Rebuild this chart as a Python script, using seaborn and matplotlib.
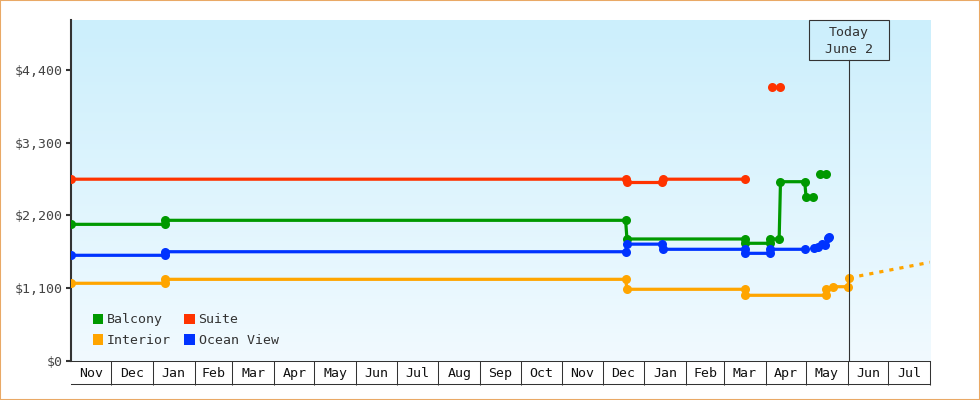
import pandas as pd
import numpy as np
import matplotlib
matplotlib.use('Agg')
import matplotlib.pyplot as plt
import matplotlib.dates as mdates
from matplotlib.patches import Patch, Rectangle
from matplotlib.colors import LinearSegmentedColormap
import seaborn as sns

# price history per cabin type (seg = separate line pieces)
balcony_dates = ['2013-11-01', '2014-01-10', '2014-01-10', '2014-12-18', '2014-12-19',
                 '2015-03-17', '2015-03-17', '2015-04-04', '2015-04-04', '2015-04-11',
                 '2015-04-12', '2015-04-30', '2015-05-01', '2015-05-06',
                 '2015-05-11', '2015-05-16']
balcony_prices = [2066, 2066, 2127, 2127, 1844,
                  1844, 1779, 1779, 1844, 1844,
                  2712, 2712, 2475, 2475,
                  2824, 2824]
balcony_segs = [0] * 14 + [1] * 2

interior_dates = ['2013-11-01', '2014-01-10', '2014-01-10', '2014-12-18', '2014-12-19',
                  '2015-03-17', '2015-03-17', '2015-05-16', '2015-05-16', '2015-05-21',
                  '2015-06-01', '2015-06-02']
interior_prices = [1173, 1173, 1233, 1233, 1082,
                   1082, 991, 991, 1086, 1121,
                   1121, 1255]
interior_segs = [0] * 12

suite_dates = ['2013-11-01', '2014-12-18', '2014-12-19', '2015-01-14', '2015-01-15',
               '2015-03-17', '2015-04-06', '2015-04-12']
suite_prices = [2750, 2750, 2700, 2700, 2750,
                2750, 4140, 4140]
suite_segs = [0] * 6 + [1] * 2

ocean_dates = ['2013-11-01', '2014-01-10', '2014-01-10', '2014-12-18', '2014-12-19',
               '2015-01-14', '2015-01-15', '2015-03-17', '2015-03-17', '2015-04-04',
               '2015-04-04', '2015-04-30',
               '2015-05-07', '2015-05-10', '2015-05-13', '2015-05-15', '2015-05-17',
               '2015-05-18']
ocean_prices = [1597, 1597, 1651, 1651, 1766,
                1766, 1688, 1688, 1627, 1627,
                1688, 1688,
                1712, 1723, 1763, 1753, 1863,
                1879]
ocean_segs = [0] * 12 + [1] * 6

# dotted projection for interior after today
proj_dates = ['2015-06-02', '2015-08-01']
proj_prices = [1255, 1491]

rooms = ['Balcony', 'Interior', 'Suite', 'Ocean View']
colors = ['#009900', '#ffa500', '#ff3300', '#0033ff']
yticks = [0, 1100, 2200, 3300, 4400]
ytick_labels = ['$0', '$1,100', '$2,200', '$3,300', '$4,400']
month_labels = ['Nov', 'Dec', 'Jan', 'Feb', 'Mar', 'Apr', 'May', 'Jun', 'Jul', 'Aug', 'Sep',
                'Oct', 'Nov', 'Dec', 'Jan', 'Feb', 'Mar', 'Apr', 'May', 'Jun', 'Jul']
today = pd.Timestamp('2015-06-02')
start = pd.Timestamp('2013-11-01')
end = pd.Timestamp('2015-08-01')

frames = []
for name, d, p, s in [('Balcony', balcony_dates, balcony_prices, balcony_segs),
                      ('Interior', interior_dates, interior_prices, interior_segs),
                      ('Suite', suite_dates, suite_prices, suite_segs),
                      ('Ocean View', ocean_dates, ocean_prices, ocean_segs)]:
    frames.append(pd.DataFrame({'date': pd.to_datetime(d), 'price': p, 'seg': s, 'room': name}))
df = pd.concat(frames, ignore_index=True)

plt.rcParams['font.family'] = ['DejaVu Sans Mono', 'DejaVu Sans']
plt.rcParams['font.size'] = 9.5

fig = plt.figure(figsize=(9.8, 4), dpi=100)
ax = fig.add_axes([70.7 / 980, 1 - 360.7 / 400, (930 - 70.7) / 980, (360.7 - 20) / 400])

# background gradient
grad = LinearSegmentedColormap.from_list('bg', ['#cceffc', '#f1faff'])
ax.imshow(np.linspace(0, 1, 256).reshape(-1, 1), cmap=grad, extent=[0, 1, 0, 1],
          transform=ax.transAxes, aspect='auto', zorder=0)

sns.lineplot(data=df, x='date', y='price', hue='room', units='seg', estimator=None,
             sort=False, hue_order=rooms, palette=colors, marker='o', markersize=6.5,
             markeredgewidth=0, linewidth=2.3, legend=False, ax=ax, zorder=3)
sns.lineplot(x=pd.to_datetime(proj_dates), y=proj_prices, color='#ffa500', linewidth=2.3,
             linestyle=(0, (1.3, 1.9)), ax=ax, zorder=3)

ax.set_xlim(start, end)
ax.set_ylim(0, 5162)
ax.set_xlabel('')
ax.set_ylabel('')

# y axis
ax.set_yticks(yticks, ytick_labels)
ax.tick_params(axis='y', length=3.6, width=1.5, color='#333333', labelcolor='#444444', pad=2)

# month cells under the plot
bounds = pd.date_range('2013-12-01', '2015-08-01', freq='MS')
edges = pd.date_range('2013-11-01', '2015-08-01', freq='MS')
mids = edges[:-1] + (edges[1:] - edges[:-1]) / 2
ax.set_xticks(bounds)
ax.set_xticklabels([])
ax.set_xticks(mids, month_labels, minor=True)
ax.tick_params(axis='x', which='major', length=17, width=0.75, color='#333333')
ax.tick_params(axis='x', which='minor', length=0, pad=4.5, labelcolor='#111111')
ax.plot([0, 1], [-0.0693, -0.0693], transform=ax.transAxes, clip_on=False,
        color='#333333', lw=0.75)

for side in ['top', 'right']:
    ax.spines[side].set_visible(False)
ax.spines['left'].set_linewidth(1.5)
ax.spines['left'].set_color('#333333')
ax.spines['bottom'].set_linewidth(0.75)
ax.spines['bottom'].set_color('#333333')

# today marker
xt = ax.get_xaxis_transform()
ax.axvline(today, ymax=0.8826, color='#333333', lw=0.8, zorder=4)
tnum = mdates.date2num(today)
ax.add_patch(Rectangle((tnum - 29.7, 0.8826), 59.4, 0.1174, transform=xt, fill=False,
                       edgecolor='#333333', lw=0.8, clip_on=False, zorder=4))
ax.text(today, 0.939, 'Today\nJune 2', transform=xt, ha='center', va='center',
        linespacing=1.35, color='#333333', zorder=4)

# legend with square swatches
handles = [Patch(facecolor=c, edgecolor='none') for c in colors]
ax.legend(handles, rooms, ncol=2, loc='lower left', bbox_to_anchor=(0.012, 0.005),
          frameon=False, handlelength=0.8, handleheight=0.8, handletextpad=0.28,
          columnspacing=1.0, labelspacing=0.6, labelcolor='#333333')

fig.patches.append(Rectangle((0, 0), 1, 1, transform=fig.transFigure, fill=False,
                             edgecolor='#e9a966', lw=1.5))

fig.savefig('out.png', dpi=100)
